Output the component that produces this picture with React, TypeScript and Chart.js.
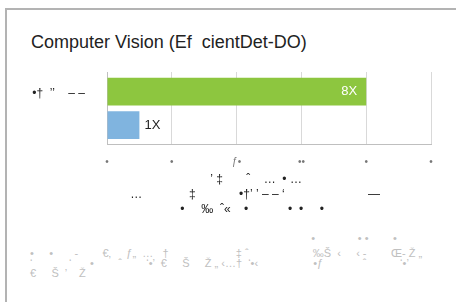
import React, { useEffect, useRef } from "react";
import { Chart, registerables } from "chart.js";

Chart.register(...registerables);

const sp = (n: number) => " ".repeat(n);

const chartTitle = "Computer Vision (Ef  cientDet-DO)";
const categories = [["•†  ’’    – –", "", ""]];
const greenSeries = [8];
const blueSeries = [1];
const valueSuffix = "X";
const xMin = 0;
const xMax = 10;
const xStep = 2;
const xTickLabels = ["•", "•", "ƒ•", "••", "•", "•"];
const axisTitleLines = [
  sp(31) + "’ ‡" + sp(7) + "ˆ" + sp(4) + "…" + sp(2) + "•" + sp(1) + "…",
  sp(7) + "…" + sp(14) + "‡" + sp(13) + "•†’" + sp(1) + "’" + sp(1) + "–" + sp(1) + "–" + sp(1) + "‘" + sp(25) + "—",
  sp(22) + "•" + sp(5) + "‰" + sp(2) + "ˆ«" + sp(4) + "•" + sp(12) + "•" + sp(2) + "•" + sp(5) + "•",
];
const footnoteLines = [
  sp(92) + "•" + sp(14) + "•" + sp(1) + "•" + sp(8) + "•",
  "•" + sp(5) + "•" + sp(7) + "-" + sp(8) + "€‚" + sp(5) + "ƒ„" + sp(2) + "…" + sp(3) + "†" + sp(22) + "‡" + sp(1) + "ˆ" + sp(21) + "‰Š" + sp(2) + "‹" + sp(5) + "‹" + sp(1) + "-" + sp(8) + "Œ-" + sp(1) + "Ž" + sp(1) + "„",
  "‘" + sp(12) + "‘" + sp(6) + "•" + sp(8) + "ˆ" + sp(8) + "‘•’" + sp(2) + "€" + sp(5) + "Š" + sp(5) + "Ž" + sp(1) + "„" + sp(1) + "‹…†" + sp(2) + "‘•‹" + sp(18) + "•ƒ" + sp(13) + "ˆ" + sp(11) + "‘•’",
  "€" + sp(5) + "Š" + sp(2) + "’" + sp(4) + "Ž",
];

const FONT = '"Liberation Sans", Arial, sans-serif';

export default function App() {
  const canvasRef = useRef<HTMLCanvasElement>(null);

  useEffect(() => {
    const canvas = canvasRef.current;
    if (!canvas) return;
    Chart.defaults.font.family = FONT;

    const valueLabels = {
      id: "valueLabels",
      afterDatasetsDraw(chart: any) {
        const ctx = chart.ctx;
        ctx.save();
        ctx.font = `13px ${FONT}`;
        ctx.textBaseline = "middle";
        chart.data.datasets.forEach((ds: any, i: number) => {
          const meta = chart.getDatasetMeta(i);
          meta.data.forEach((bar: any, j: number) => {
            const text = `${ds.data[j]}${valueSuffix}`;
            const inside = i === 0;
            ctx.fillStyle = inside ? "#ffffff" : "#222222";
            ctx.textAlign = inside ? "right" : "left";
            ctx.fillText(text, inside ? bar.x - 9 : bar.x + 5, bar.y);
          });
        });
        ctx.restore();
      },
    };

    const chart = new Chart(canvas, {
      type: "bar",
      data: {
        labels: categories as any,
        datasets: [
          {
            data: greenSeries,
            backgroundColor: "#8DC63F",
            barPercentage: 0.83,
            categoryPercentage: 0.92,
          },
          {
            data: blueSeries,
            backgroundColor: "#80B4DF",
            barPercentage: 0.83,
            categoryPercentage: 0.92,
          },
        ],
      },
      options: {
        indexAxis: "y",
        responsive: false,
        animation: false,
        layout: { padding: { left: 20, right: 25, top: 12, bottom: 2.5 } },
        plugins: {
          legend: { display: false },
          tooltip: { enabled: false },
        },
        scales: {
          x: {
            type: "linear",
            min: xMin,
            max: xMax,
            grid: { color: "#d9d9d9", drawTicks: false },
            border: { color: "#bfbfbf" },
            ticks: {
              stepSize: xStep,
              padding: 11,
              color: "#777777",
              font: { size: 10 },
              callback: (_v: any, i: number) => xTickLabels[i] ?? "",
            },
            title: {
              display: true,
              text: axisTitleLines,
              align: "start",
              color: "#222222",
              font: { size: 12, lineHeight: 1.25 },
              padding: { top: 14.5, bottom: 0 },
            },
          },
          y: {
            grid: { display: false, drawTicks: false },
            border: { color: "#bfbfbf" },
            ticks: { padding: 22, color: "#222222", font: { size: 12 } },
            afterFit: (s: any) => {
              s.width = 87;
              s.paddingTop = 0;
              s.paddingBottom = 0;
            },
          },
        },
      } as any,
      plugins: [valueLabels],
    });
    return () => chart.destroy();
  }, []);

  return (
    <div
      style={{
        position: "absolute",
        left: 0,
        top: 0,
        width: 456,
        height: 302,
        overflow: "hidden",
        background: "#ffffff",
        fontFamily: FONT,
      }}
    >
      <div
        style={{
          position: "absolute",
          left: 5,
          top: 8,
          width: 451,
          height: 294,
          borderTop: "2px solid #b3b3b3",
          borderLeft: "2px solid #b3b3b3",
          boxSizing: "border-box",
        }}
      />
      <div
        style={{
          position: "absolute",
          left: 31,
          top: 32,
          fontSize: 18,
          lineHeight: "20px",
          color: "#222222",
          whiteSpace: "pre",
        }}
      >
        {chartTitle}
      </div>
      <canvas
        ref={canvasRef}
        width={456}
        height={160}
        style={{ position: "absolute", left: 0, top: 60, display: "block" }}
      />
      <div
        style={{
          position: "absolute",
          left: 30,
          top: 233,
          fontSize: 11,
          color: "#c0c0c0",
          whiteSpace: "pre",
        }}
      >
        {footnoteLines.map((line, i) => (
          <div key={i} style={{ lineHeight: "10px", marginBottom: i === 0 ? 5 : 0 }}>
            {line}
          </div>
        ))}
      </div>
    </div>
  );
}
